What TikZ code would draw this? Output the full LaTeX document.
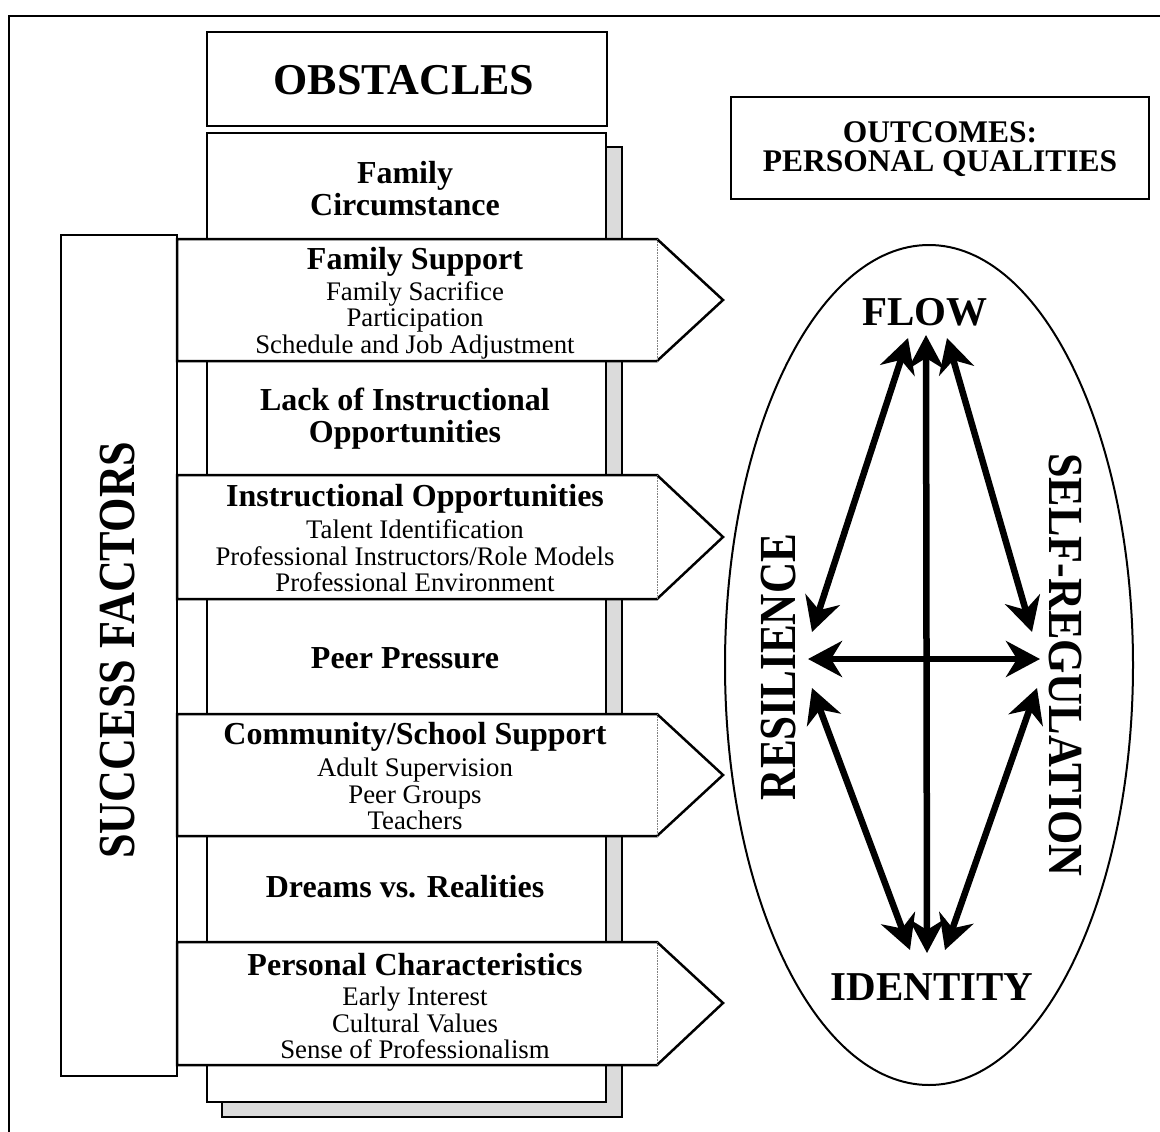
\documentclass[tikz,border=0pt]{standalone}
\usepackage{fontspec}
\usepackage{graphicx}
\setmainfont{Liberation Serif}
\usetikzlibrary{arrows.meta}

\tikzset{
	box/.style={draw, line width=2.5pt, fill=white},
	shadowstrip/.style={draw, line width=2pt, fill=black!14},
	arrowbox/.style={draw, line width=2.5pt, fill=white, line join=miter},
	obstacle/.style={font=\fontsize{32}{32}\selectfont\bfseries, align=center},
	factorhead/.style={font=\fontsize{32}{32}\selectfont\bfseries},
	factoritems/.style={font=\fontsize{26.8}{26.5}\selectfont, align=center},
	title/.style={font=\fontsize{44}{44}\selectfont\bfseries},
	outcome/.style={font=\fontsize{31.5}{29}\selectfont\bfseries, align=center},
	quality/.style={font=\fontsize{41}{41}\selectfont\bfseries},
	sidelabel/.style={font=\fontsize{52}{52}\selectfont\bfseries},
	link/.style={line width=6.5pt, >={Stealth[length=34pt,width=36pt,inset=11pt]}, <->},
}

\begin{document}
\begin{tikzpicture}[x=1pt,y=-1pt]
		\useasboundingbox (0,0) rectangle (1160,1132);
		\draw[line width=2pt] (9,1132) -- (9,16) -- (1160,16);
		
		\draw[box] (207,32) rectangle (607,126);
		\node[title] at (404,80) (obst) {OBSTACLES};
		
		\draw[shadowstrip] (222,147) rectangle (622,1117);
		\draw[box] (207,133) rectangle (606,1102);
		\node[obstacle] at (405,189) (circ) {Family\\Circumstance};
		\node[obstacle] at (405,419) (lack) {Lack of Instructional\\Opportunities};
		\node[obstacle] at (405,658) (peer) {Peer Pressure};
		\node[obstacle] at (405,887) (dream) {Dreams vs. Realities};
		
		\draw[box] (61,235) rectangle (177,1076);
		\node[sidelabel, rotate=90] at (118,650) (succ) {\scalebox{0.85}[1]{SUCCESS FACTORS}};
		
		\draw[arrowbox] (177,239) -- (657,239) -- (723,300) -- (657,361) -- (177,361) -- cycle;
		\draw[gray, densely dotted, line width=0.6pt] (657,239) -- (657,361);
		\node[factorhead] at (415,262) (fam) {Family Support};
		\node[factoritems] at (415,320) (famitems) {Family Sacrifice\\Participation\\Schedule and Job Adjustment};
		
		\draw[arrowbox] (177,475) -- (657,475) -- (723,537) -- (657,599) -- (177,599) -- cycle;
		\draw[gray, densely dotted, line width=0.6pt] (657,475) -- (657,599);
		\node[factorhead] at (415,499) (instr) {Instructional Opportunities};
		\node[factoritems] at (415,556) (instritems) {Talent Identification\\Professional Instructors/Role Models\\Professional Environment};
		
		\draw[arrowbox] (177,714) -- (657,714) -- (723,775) -- (657,836) -- (177,836) -- cycle;
		\draw[gray, densely dotted, line width=0.6pt] (657,714) -- (657,836);
		\node[factorhead] at (415,737) (comm) {Community/School Support};
		\node[factoritems] at (415,794) (commitems) {Adult Supervision\\Peer Groups\\Teachers};
		
		\draw[arrowbox] (177,942) -- (657,942) -- (723,1003) -- (657,1065) -- (177,1065) -- cycle;
		\draw[gray, densely dotted, line width=0.6pt] (657,942) -- (657,1065);
		\node[factorhead] at (415,965) (pers) {Personal Characteristics};
		\node[factoritems] at (415,1023) (persitems) {Early Interest\\Cultural Values\\Sense of Professionalism};
		
		\draw[box] (731,97) rectangle (1149,199);
		\node[outcome] at (940,149) (outc) {OUTCOMES:\\PERSONAL QUALITIES};
		
		\draw[line width=2pt] (929,665) ellipse [x radius=204, y radius=420];
		\node[quality] at (925,312) (flow) {FLOW};
		\node[quality] at (932,987) (ident) {IDENTITY};
		\node[sidelabel, rotate=90] at (779,667) (resil) {\scalebox{0.83}[1]{RESILIENCE}};
		\node[sidelabel, font=\fontsize{49}{49}\selectfont\bfseries, rotate=-90] at (1065,665) (selfreg) {\scalebox{0.9}[1]{SELF-REGULATION}};
		
		\coordinate (flowL) at (908,338);
		\coordinate (flowM) at (926,335);
		\coordinate (flowR) at (947,338);
		\coordinate (resilT) at (812,632);
		\coordinate (resilM) at (808,659);
		\coordinate (resilB) at (812,688);
		\coordinate (selfT) at (1032,632);
		\coordinate (selfM) at (1040,659);
		\coordinate (selfB) at (1037,688);
		\coordinate (identL) at (910,950);
		\coordinate (identM) at (927,953);
		\coordinate (identR) at (945,950);
		
		\draw[link] (flowM) -- (identM);
		\draw[link] (resilM) -- (selfM);
		\draw[link] (flowL) -- (resilT);
		\draw[link] (flowR) -- (selfT);
		\draw[link] (resilB) -- (identL);
		\draw[link] (selfB) -- (identR);
	\end{tikzpicture}
\end{document}
